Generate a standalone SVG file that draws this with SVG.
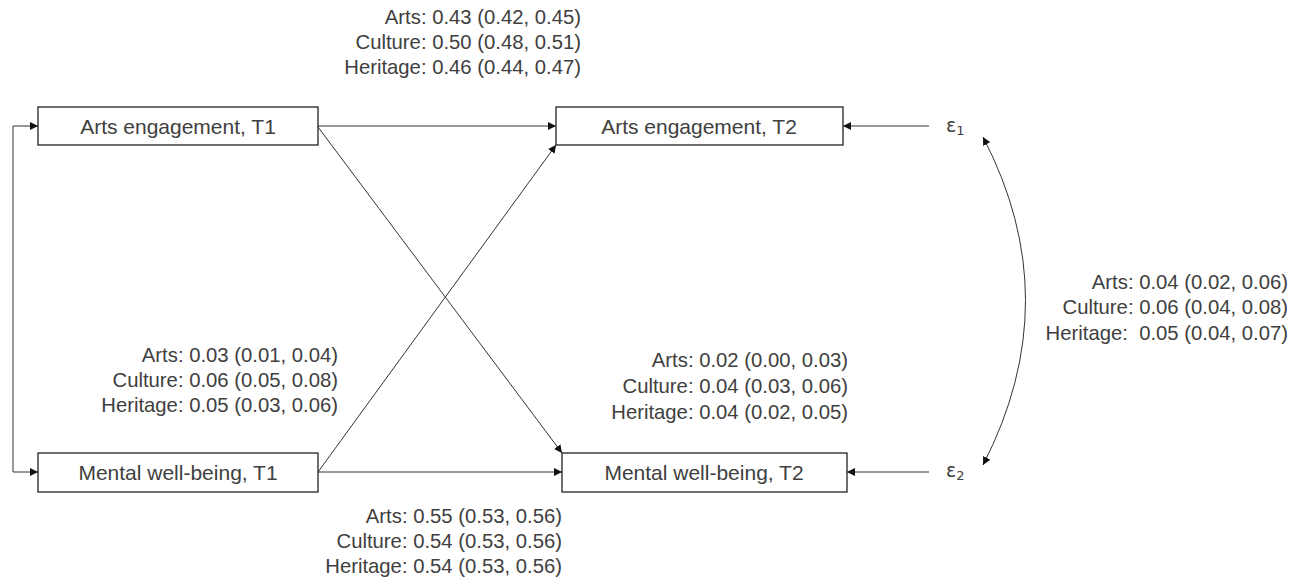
<svg xmlns="http://www.w3.org/2000/svg" width="1295" height="578" viewBox="0 0 1295 578">
<defs>
<marker id="ah" viewBox="0 0 10 10" refX="10" refY="5" markerWidth="8" markerHeight="8" markerUnits="userSpaceOnUse" orient="auto-start-reverse">
<path d="M0,0 L10,5 L0,10 z" fill="#111"/>
</marker>
<style>
.box{fill:#fff;stroke:#222;stroke-width:1.3}
.lbl{font-family:"Liberation Sans",Arial,sans-serif;font-size:21px;fill:#404040;text-anchor:middle;dominant-baseline:central}
.num{font-family:"Liberation Sans",Arial,sans-serif;font-size:20.3px;fill:#404040;text-anchor:end;dominant-baseline:central}
.eps{font-family:"DejaVu Sans",sans-serif;font-size:19px;fill:#404040;dominant-baseline:central}
.c{fill:none;stroke:#333;stroke-width:1;marker-end:url(#ah)}
</style>
</defs>
<rect width="1295" height="578" fill="#fff"/>
<g id="connectors">
<polyline class="c" points="38,472 13,472 13,126 38,126" style="marker-start:url(#ah)"/>
<line class="c" x1="318" y1="126" x2="556" y2="126"/>
<line class="c" x1="318" y1="127" x2="562" y2="453"/>
<line class="c" x1="318" y1="472" x2="556" y2="145"/>
<line class="c" x1="318" y1="472" x2="562" y2="472"/>
<line class="c" x1="929" y1="126" x2="843" y2="126"/>
<line class="c" x1="929" y1="472" x2="847" y2="472"/>
<path class="c" d="M983,137 Q1068,300 983,465" style="marker-start:url(#ah)"/>
</g>
<g id="n-arts1"><rect class="box" x="38" y="107" width="280" height="38"/><text class="lbl" x="178" y="126">Arts engagement, T1</text></g>
<g id="n-arts2"><rect class="box" x="556" y="107" width="287" height="38"/><text class="lbl" x="699" y="126">Arts engagement, T2</text></g>
<g id="n-mwb1"><rect class="box" x="38" y="453" width="280" height="39"/><text class="lbl" x="178" y="472">Mental well-being, T1</text></g>
<g id="n-mwb2"><rect class="box" x="562" y="453" width="285" height="39"/><text class="lbl" x="704" y="472">Mental well-being, T2</text></g>
<g id="e1"><text class="eps" x="946" y="125">ε<tspan font-size="13" dy="5">1</tspan></text></g>
<g id="e2"><text class="eps" x="946" y="470">ε<tspan font-size="13" dy="5">2</tspan></text></g>
<g id="labels">
<text class="num" x="581" y="17">Arts: 0.43 (0.42, 0.45)</text>
<text class="num" x="581" y="42">Culture: 0.50 (0.48, 0.51)</text>
<text class="num" x="581" y="67">Heritage: 0.46 (0.44, 0.47)</text>
<text class="num" x="338" y="355">Arts: 0.03 (0.01, 0.04)</text>
<text class="num" x="338" y="380">Culture: 0.06 (0.05, 0.08)</text>
<text class="num" x="338" y="405">Heritage: 0.05 (0.03, 0.06)</text>
<text class="num" x="848" y="360">Arts: 0.02 (0.00, 0.03)</text>
<text class="num" x="848" y="386">Culture: 0.04 (0.03, 0.06)</text>
<text class="num" x="848" y="412">Heritage: 0.04 (0.02, 0.05)</text>
<text class="num" x="562" y="516">Arts: 0.55 (0.53, 0.56)</text>
<text class="num" x="562" y="541">Culture: 0.54 (0.53, 0.56)</text>
<text class="num" x="562" y="566">Heritage: 0.54 (0.53, 0.56)</text>
<text class="num" x="1288" y="282">Arts: 0.04 (0.02, 0.06)</text>
<text class="num" x="1288" y="307">Culture: 0.06 (0.04, 0.08)</text>
<text class="num" x="1288" y="333">Heritage:&#160; 0.05 (0.04, 0.07)</text>
</g>
</svg>
